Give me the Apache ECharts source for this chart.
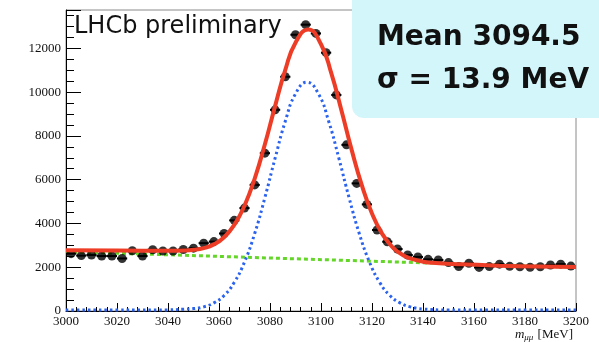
<!DOCTYPE html>
<html>
<head>
<meta charset="utf-8">
<script src="https://cdn.jsdelivr.net/npm/echarts@6/dist/echarts.min.js"></script>
<style>
  html, body { margin: 0; padding: 0; background: #fff; }
  #chart { width: 599px; height: 342px; }
</style>
</head>
<body>
<div id="chart"></div>
<script>
// Di-muon invariant mass around the J/psi: 4 MeV bins, candidates per bin
const binCenters = [3002, 3006, 3010, 3014, 3018, 3022, 3026, 3030, 3034, 3038,
                    3042, 3046, 3050, 3054, 3058, 3062, 3066, 3070, 3074, 3078,
                    3082, 3086, 3090, 3094, 3098, 3102, 3106, 3110, 3114, 3118,
                    3122, 3126, 3130, 3134, 3138, 3142, 3146, 3150, 3154, 3158,
                    3162, 3166, 3170, 3174, 3178, 3182, 3186, 3190, 3194, 3198];
const counts = [2620, 2530, 2560, 2510, 2510, 2400, 2750, 2510, 2800, 2740,
                2740, 2810, 2870, 3100, 3170, 3540, 4140, 4700, 5760, 7210,
                9190, 10700, 12620, 13080, 12680, 11800, 9870, 7590, 5830, 4870,
                3700, 3165, 2830, 2557, 2470, 2360, 2330, 2210, 2030, 2180,
                1990, 2030, 2140, 2040, 2020, 2000, 2020, 2100, 2140, 2050];
const binHalfWidth = 2;

// Total fit (signal + background), sampled along the mass axis
const totalMass = [3000, 3020, 3040, 3046, 3050, 3054, 3058, 3062, 3066, 3070,
                   3074, 3078, 3082, 3086, 3090, 3095, 3100, 3104, 3108, 3112,
                   3116, 3120, 3124, 3128, 3132, 3136, 3140, 3145, 3155, 3170,
                   3185, 3200];
const totalFit  = [2770, 2760, 2750, 2763, 2794, 2872, 3044, 3372, 3934, 4810,
                   6050, 7617, 9360, 11013, 12256, 12855, 12186, 10878, 9170, 7372,
                   5750, 4450, 3524, 2922, 2562, 2367, 2254, 2194, 2130, 2070,
                   2030, 2010];

// Signal component
const signalMass = [3000, 3020, 3040, 3046, 3050, 3054, 3058, 3062, 3066, 3070,
                    3074, 3078, 3082, 3086, 3090, 3094.5, 3099, 3103, 3107, 3111,
                    3115, 3119, 3123, 3127, 3131, 3135, 3140, 3150, 3165, 3180, 3200];
const signalFit  = [40, 40, 50, 80, 110, 190, 370, 710, 1310, 2240,
                    3540, 5180, 6980, 8670, 9920, 10450, 9920, 8670, 6980, 5180,
                    3540, 2240, 1310, 710, 370, 190, 90, 45, 40, 40, 40];

// Background component
const bkgMass   = [3000, 3040, 3080, 3120, 3160, 3200];
const bkgFit    = [2700, 2570, 2420, 2275, 2130, 2000];

const meanText  = 'Mean 3094.5';
const sigmaText = 'σ = 13.9 MeV';

function pairs(xs, ys) { return xs.map((x, i) => [x, ys[i]]); }

const chart = echarts.init(document.getElementById('chart'), null, { renderer: 'canvas' });

const serif = 'Liberation Serif';
const plain = v => String(v);

chart.setOption({
  animation: false,
  backgroundColor: '#fff',
  grid: { left: 66, right: 23, top: 10, bottom: 31, show: true, borderColor: '#8a8a8a', borderWidth: 1 },
  title: {
    text: '{i|m}{s|μμ} [MeV]',
    right: 21, top: 322,
    textStyle: {
      fontFamily: serif, fontSize: 13, fontWeight: 'normal', color: '#111',
      rich: {
        i: { fontFamily: serif, fontStyle: 'italic', fontSize: 13, color: '#111' },
        s: { fontFamily: serif, fontStyle: 'italic', fontSize: 9, color: '#111', padding: [6, 1, 0, 0] }
      }
    }
  },
  xAxis: {
    type: 'value', min: 3000, max: 3200, interval: 20,
    axisLine: { onZero: false, lineStyle: { color: '#000', width: 1 } },
    axisTick: { inside: true, length: 8, lineStyle: { color: '#000' } },
    minorTick: { show: true, splitNumber: 5, length: 4, lineStyle: { color: '#000' } },
    splitLine: { show: false },
    axisLabel: { formatter: plain, fontFamily: serif, fontSize: 13, color: '#111', margin: 4 }
  },
  yAxis: {
    type: 'value', min: 0, max: 13750, interval: 2000,
    axisLine: { show: true, lineStyle: { color: '#000', width: 1 } },
    axisTick: { show: true, inside: true, length: 15, lineStyle: { color: '#000' } },
    minorTick: { show: true, splitNumber: 4, length: 8, lineStyle: { color: '#000' } },
    splitLine: { show: false },
    axisLabel: { formatter: plain, showMaxLabel: false, fontFamily: serif, fontSize: 13, color: '#111', margin: 5 }
  },
  graphic: [
    { type: 'text', x: 74, y: 27, z: 50,
      style: { text: 'LHCb preliminary', font: '24px "DejaVu Sans"', fill: '#111', verticalAlign: 'middle' } },
    { type: 'rect', z: 100,
      shape: { x: 352, y: -14, width: 262, height: 132, r: 12 },
      style: { fill: '#d3f6fa' } },
    { type: 'text', x: 377, y: 37.5, z: 101,
      style: { text: meanText, font: 'bold 28px "DejaVu Sans"', fill: '#111', verticalAlign: 'middle' } },
    { type: 'text', x: 377, y: 81, z: 101,
      style: { text: sigmaText, font: 'bold 28px "DejaVu Sans"', fill: '#111', verticalAlign: 'middle' } }
  ],
  series: [
    {
      name: 'background', type: 'line', data: pairs(bkgMass, bkgFit),
      showSymbol: false, z: 2,
      lineStyle: { color: '#63d628', width: 3, type: [4, 3] }
    },
    {
      name: 'signal', type: 'line', data: pairs(signalMass, signalFit),
      showSymbol: false, smooth: 0.5, z: 2,
      lineStyle: { color: '#2b63ee', width: 3, type: [2.5, 3] }
    },
    {
      name: 'bin width', type: 'custom', data: pairs(binCenters, counts), z: 3,
      renderItem: function (params, api) {
        const x = api.value(0), y = api.value(1);
        const a = api.coord([x - binHalfWidth, y]);
        const b = api.coord([x + binHalfWidth, y]);
        return { type: 'line', shape: { x1: a[0], y1: a[1], x2: b[0], y2: b[1] },
                 style: { stroke: '#000', lineWidth: 2 } };
      }
    },
    {
      name: 'data', type: 'scatter', data: pairs(binCenters, counts), z: 4,
      symbol: 'circle', symbolSize: 9, itemStyle: { color: '#000' }
    },
    {
      name: 'total fit', type: 'line', data: pairs(totalMass, totalFit),
      showSymbol: false, smooth: 0.5, z: 5,
      lineStyle: { color: '#ee3d26', width: 4 }
    }
  ]
});
</script>
</body>
</html>
